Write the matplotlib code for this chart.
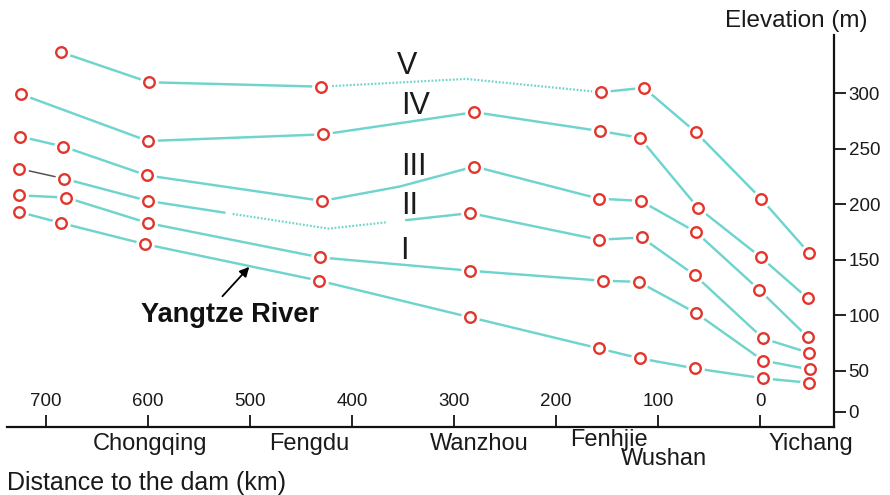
import numpy as np
import matplotlib
matplotlib.use("Agg")
import matplotlib.pyplot as plt

plt.rcParams['font.family'] = ['Liberation Sans', 'DejaVu Sans']

# Distance to the dam (km) and elevation (m) of the river and terrace levels
river_km = [726, 685, 603, 432, 284, 158, 118, 64, -3, -48]
river_m = [193, 183, 164, 131, 98, 70, 61, 52, 43, 39]

t1_km = [726, 680, 600, 431, 284, 154, 119, 63, -3, -49]
t1_m = [208, 206, 183, 152, 140, 131, 130, 102, 59, 51]

t2_km = [726, 682, 600, 423, 284, 158, 116, 64, -3, -48]
t2_m = [232, 223, 203, 178, 192, 168, 170, 136, 79, 66]
t2_site = [1, 1, 1, 0, 1, 1, 1, 1, 1, 1]

t3_km = [725, 683, 601, 429, 353, 280, 158, 117, 63, 1, -47]
t3_m = [261, 252, 226, 203, 216, 234, 205, 203, 175, 123, 80]
t3_site = [1, 1, 1, 1, 0, 1, 1, 1, 1, 1, 1]

t4_km = [724, 600, 428, 280, 157, 118, 61, -1, -47]
t4_m = [299, 257, 263, 283, 266, 260, 197, 152, 115]

t5_km = [685, 599, 430, 288, 156, 114, 63, -1, -48]
t5_m = [337, 310, 306, 313, 301, 305, 265, 205, 156]
t5_site = [1, 1, 1, 0, 1, 1, 1, 1, 1]

x_ticks = [700, 600, 500, 400, 300, 200, 100, 0]
y_ticks = [13, 50, 100, 150, 200, 250, 300]
y_tick_labels = ['0', '50', '100', '150', '200', '250', '300']

towns = ['Chongqing', 'Fengdu', 'Wanzhou', 'Fenhjie', 'Wushan', 'Yichang']
town_km = [598, 442, 275, 148, 94, -50]
town_drop = [16.5, 16.5, 16.5, 13.5, 27.5, 16.5]   # points below the axis line

levels = ['V', 'IV', 'III', 'II', 'I']
level_km = [346, 338, 339.5, 344, 349]
level_m = [325, 289, 234, 198, 158]

LINE = '#6fd4cd'
RED = '#e2352b'
LW = 1.75

fig = plt.figure(figsize=(8.9, 4.95), dpi=100)
ax = fig.add_axes([7 / 890, 68 / 495, 827 / 890, 392 / 495])
ax.set_xlim(738.2, -72.5)
ax.set_ylim(-0.9, 352.6)


def piece(km, m, start, end, **kw):
    """Draw the part of a profile between two distances."""
    km = np.asarray(km, float)
    m = np.asarray(m, float)
    inside = (km < start) & (km > end)
    xs = np.concatenate([[start], km[inside], [end]])
    ys = np.interp(xs, km[::-1], m[::-1])
    ax.plot(xs, ys, color=kw.pop('color', LINE), lw=kw.pop('lw', LW),
            solid_capstyle='butt', zorder=2, **kw)


dotted = dict(linestyle=(0, (0.8, 0.8)), lw=1.6)

# River and terraces I, III, IV: continuous profiles
for km, m in [(river_km, river_m), (t1_km, t1_m), (t3_km, t3_m), (t4_km, t4_m)]:
    piece(km, m, km[0], km[-1])

# Terrace II: broken and inferred reach between Chongqing and Wanzhou
piece(t2_km, t2_m, t2_km[0], t2_km[1], color='#555555', lw=1.1)
piece(t2_km, t2_m, t2_km[1], 524)
piece(t2_km, t2_m, 517, 367, **dotted)
piece(t2_km, t2_m, 348, t2_km[-1])

# Terrace V: inferred reach between Fengdu and Fenhjie
piece(t5_km, t5_m, t5_km[0], t5_km[2])
piece(t5_km, t5_m, t5_km[2], t5_km[4], **dotted)
piece(t5_km, t5_m, t5_km[4], t5_km[-1])

# Sample sites: white halo under a red ring
sites_km, sites_m = [], []
for km, m, keep in [(river_km, river_m, None), (t1_km, t1_m, None),
                    (t2_km, t2_m, t2_site), (t3_km, t3_m, t3_site),
                    (t4_km, t4_m, None), (t5_km, t5_m, t5_site)]:
    for i, (k, v) in enumerate(zip(km, m)):
        if keep is None or keep[i]:
            sites_km.append(k)
            sites_m.append(v)
ax.plot(sites_km, sites_m, 'o', ms=13.5, mfc='white', mec='none', zorder=3)
ax.plot(sites_km, sites_m, 'o', ms=7.6, mfc='white', mec=RED, mew=1.7, zorder=4)

# Level numerals
for lbl, k, v in zip(levels, level_km, level_m):
    ax.text(k, v, lbl, ha='center', va='center', fontsize=22, color='#1a1a1a', zorder=5)

# River annotation
ax.annotate('', xy=(500.7, 143.5), xytext=(527, 117),
            arrowprops=dict(arrowstyle='-|>', color='black', lw=1.3,
                            mutation_scale=14, shrinkA=0, shrinkB=0), zorder=5)
ax.text(519.6, 94, 'Yangtze River', ha='center', va='baseline',
        fontsize=19.5, fontweight='bold', color='#111111')

# Axes frame
for side in ('left', 'top'):
    ax.spines[side].set_visible(False)
for side in ('bottom', 'right'):
    ax.spines[side].set_linewidth(1.6)
    ax.spines[side].set_color('#111111')

ax.set_xticks(x_ticks)
ax.set_xticklabels([])
ax.tick_params(axis='x', direction='in', length=8.5, width=1.3, color='#111111')
for t in x_ticks:
    ax.annotate(str(t), (t, 0), xycoords=('data', 'axes fraction'),
                xytext=(0, 18), textcoords='offset points',
                ha='center', va='center', fontsize=13.5, color='#1a1a1a')

ax.yaxis.tick_right()
ax.set_yticks(y_ticks)
ax.set_yticklabels(y_tick_labels)
ax.tick_params(axis='y', direction='out', length=8.5, width=1.3, pad=2,
               labelsize=13.5, color='#111111', labelcolor='#1a1a1a')

# Town names under the distance axis
for name, k, drop in zip(towns, town_km, town_drop):
    ax.annotate(name, (k, 0), xycoords=('data', 'axes fraction'),
                xytext=(0, -drop), textcoords='offset points',
                ha='center', va='baseline', fontsize=17, color='#1a1a1a')

fig.text(7 / 890, 5 / 495, 'Distance to the dam (km)', ha='left', va='baseline',
         fontsize=18, color='#1a1a1a')
fig.text(725 / 890, 468 / 495, 'Elevation (m)', ha='left', va='baseline',
         fontsize=17.5, color='#1a1a1a')

fig.savefig('out.png', dpi=100)
